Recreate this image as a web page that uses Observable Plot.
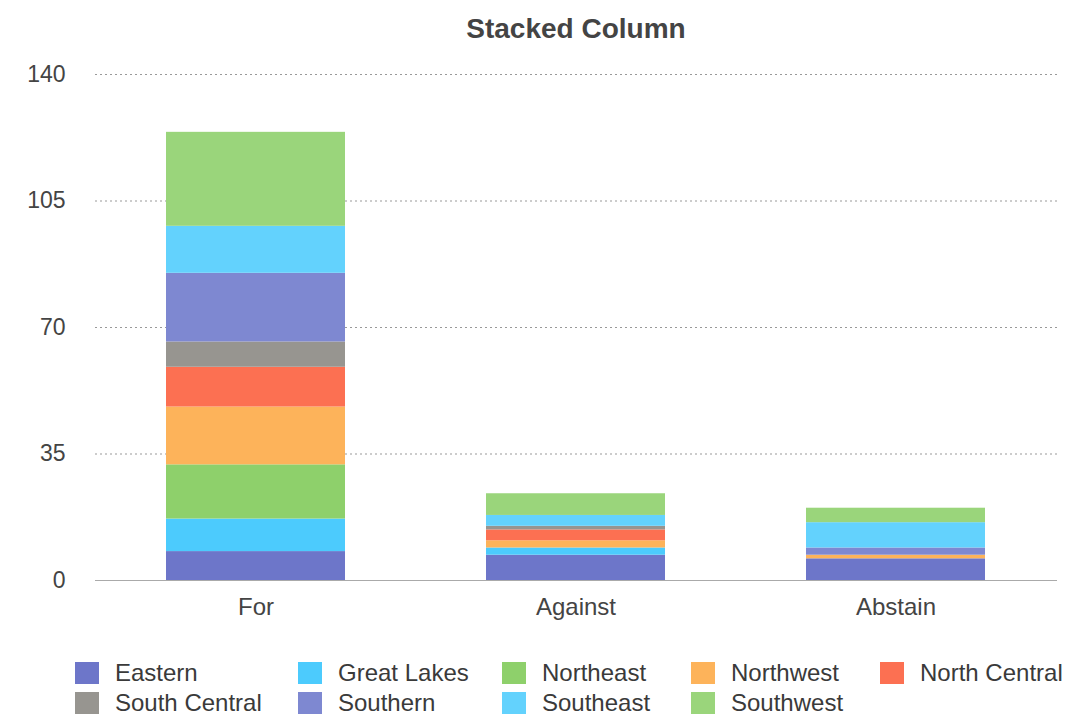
<!DOCTYPE html>
<html>
<head>
<meta charset="utf-8">
<script src="https://cdn.jsdelivr.net/npm/d3@7"></script>
<script src="https://cdn.jsdelivr.net/npm/@observablehq/plot@0.6"></script>
<style>
  body { margin: 0; background: #fff; font-family: "Liberation Sans", Arial, sans-serif; width: 1083px; height: 725px; position: relative; overflow: hidden; }
  #title { position: absolute; left: 95px; width: 962px; top: 13px; text-align: center; font-size: 28px; font-weight: bold; color: #444; }
  #chart { position: absolute; left: 0; top: 55px; }
  .leg { position: absolute; display: flex; align-items: center; font-size: 24px; color: #3a3a3a; white-space: nowrap; }
  .sw { width: 24px; height: 22px; margin-right: 16px; }
</style>
</head>
<body>
<div id="title">Stacked Column</div>
<div id="chart"></div>
<div id="legend"></div>
<script>
const votes = ["For", "Against", "Abstain"];
const regions = ["Eastern", "Great Lakes", "Northeast", "Northwest", "North Central", "South Central", "Southern", "Southeast", "Southwest"];
const colors = ["#6d76c9", "#4ccbfd", "#8ed06b", "#fdb35a", "#fc7052", "#979590", "#7e88d1", "#63d2fd", "#9ad57b"];
// values per region for [For, Against, Abstain]
const eastern      = [8, 7, 6];
const greatLakes   = [9, 2, 0];
const northeast    = [15, 0, 0];
const northwest    = [16, 2, 1];
const northCentral = [11, 3, 0];
const southCentral = [7, 1, 0];
const southern     = [19, 0, 2];
const southeast    = [13, 3, 7];
const southwest    = [26, 6, 4];
const yTicks = [0, 35, 70, 105, 140];

const series = [eastern, greatLakes, northeast, northwest, northCentral, southCentral, southern, southeast, southwest];
const data = [];
regions.forEach((r, i) => votes.forEach((v, j) => data.push({region: r, vote: v, value: series[i][j]})));

const chart = Plot.plot({
  width: 1083,
  height: 570,
  marginLeft: 95,
  marginRight: 26,
  marginTop: 19,
  marginBottom: 45,
  style: {fontFamily: "Liberation Sans, Arial, sans-serif", fontSize: "24px", color: "#444", background: "transparent"},
  x: {domain: votes, paddingInner: 0.44, paddingOuter: 0.22, label: null},
  y: {domain: [0, 140], label: null},
  color: {domain: regions, range: colors},
  marks: [
    Plot.gridY(yTicks.filter(d => d > 0), {stroke: "#999", strokeOpacity: 1, strokeDasharray: "2,3"}),
    Plot.barY(data, {x: "vote", y: "value", fill: "region", inset: 0}),
    Plot.ruleY([0], {stroke: "#aaa", strokeWidth: 1.2}),
    Plot.axisY({ticks: yTicks, tickSize: 0, tickPadding: 30, label: null, fontSize: 23}),
    Plot.axisX({tickSize: 0, tickPadding: 17, label: null, fontSize: 24})
  ]
});
document.getElementById("chart").appendChild(chart);

const lefts = [75, 298, 502, 691, 880];
const legend = document.getElementById("legend");
regions.forEach((r, i) => {
  const row = Math.floor(i / 5), col = i % 5;
  const el = document.createElement("div");
  el.className = "leg";
  el.style.left = lefts[col] + "px";
  el.style.top = (659 + row * 30) + "px";
  el.innerHTML = `<div class="sw" style="background:${colors[i]}"></div><span>${r}</span>`;
  legend.appendChild(el);
});
</script>
</body>
</html>
